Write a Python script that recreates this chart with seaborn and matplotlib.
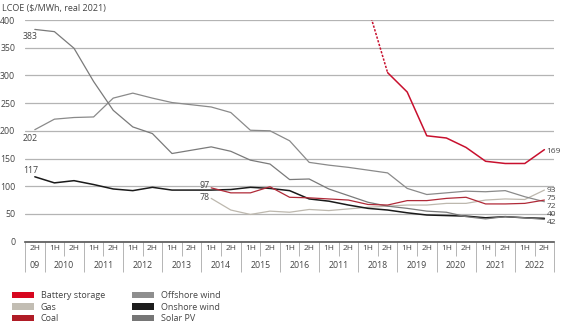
import numpy as np
import pandas as pd
import matplotlib
matplotlib.use("Agg")
import matplotlib.pyplot as plt
import seaborn as sns
from matplotlib.patches import Patch

# ---------------- data ----------------
halves = ["2H"] + ["1H", "2H"] * 13
years = ["09", "2010", "2011", "2012", "2013", "2014", "2015", "2016",
         "2011", "2018", "2019", "2020", "2021", "2022"]
nan = np.nan

solar_pv = [383, 379, 349, 289, 237, 207, 195, 159, 165, 171, 163, 147, 140, 112,
            113, 95, 83, 71, 64, 60, 55, 53, 45, 41, 45, 43, 40]
offshore_wind = [202, 221, 224, 225, 259, 268, 259, 251, 247, 243, 233, 201, 200, 182,
                 143, 138, 134, 129, 124, 96, 85, 88, 91, 90, 92, 81, 72]
onshore_wind = [117, 106, 110, 103, 95, 92, 98, 93, 93, 93, 94, 98, 96, 92,
                77, 73, 66, 60, 57, 52, 48, 47, 46, 43, 45, 43, 42]
coal = [nan] * 9 + [97, 88, 88, 99, 80, 79, 77, 75, 67, 66, 74, 74, 78, 80, 68, 68, 69, 75]
gas = [nan] * 9 + [78, 57, 49, 55, 53, 58, 56, 59, 62, 64, 66, 66, 69, 69, 75, 77, 76, 93]
battery = [nan] * 17 + [423, 305, 270, 191, 187, 170, 145, 141, 141, 166]
battery_estimate_end = 18  # dashed (estimated) part ends at this period

series_names = ["Battery storage", "Gas", "Coal", "Offshore wind", "Onshore wind", "Solar PV"]
series_values = [battery, gas, coal, offshore_wind, onshore_wind, solar_pv]
colors = {"Battery storage": "#d7061f", "Gas": "#c2bdb3", "Coal": "#b01c26",
          "Offshore wind": "#8e8e8e", "Onshore wind": "#1c1c1c", "Solar PV": "#767676"}
line_colors = {"Battery storage": "#c8102e", "Gas": "#bdb8ae", "Coal": "#b02a38",
               "Offshore wind": "#8a8a8a", "Onshore wind": "#1a1a1a", "Solar PV": "#7a7a7a"}

start_labels = [("383", -0.23, 371), ("202", -0.23, 187), ("117", -0.2, 129),
                ("97", 8.67, 102), ("78", 8.67, 79)]
end_labels = [("169", 162), ("93", 93), ("75", 78.5), ("72", 64), ("40", 49), ("42", 34)]

rows = []
for name, vals in zip(series_names, series_values):
    for i, v in enumerate(vals):
        rows.append({"period": i, "value": v, "series": name})
df = pd.DataFrame(rows).dropna()

# ---------------- style ----------------
sns.set_theme(style="white")
plt.rcParams["font.family"] = ["Open Sans", "DejaVu Sans"]
txt = "#444444"

fig = plt.figure(figsize=(5.8, 3.27), dpi=100)
ax = fig.add_axes([25 / 580, 1 - 241.6 / 327, 529.2 / 580, 221.6 / 327])

for name in series_names:
    d = df[df["series"] == name]
    lw = 1.1 if name in ("Onshore wind", "Battery storage") else 0.9
    if name == "Battery storage":
        dashed = d[d["period"] <= battery_estimate_end]
        solid = d[d["period"] >= battery_estimate_end]
        sns.lineplot(data=dashed, x="period", y="value", color=line_colors[name],
                     lw=lw, ls=(0, (1.5, 1)), ax=ax, legend=False)
        sns.lineplot(data=solid, x="period", y="value", color=line_colors[name],
                     lw=lw, ax=ax, legend=False)
    else:
        sns.lineplot(data=d, x="period", y="value", color=line_colors[name],
                     lw=lw, ax=ax, legend=False, zorder=3 if name == "Coal" else 2)

ax.set_xlim(-0.5, len(halves) - 0.5)
ax.set_ylim(0, 400)
ax.set_yticks(range(0, 401, 50))
ax.yaxis.grid(True, color="#b4b4b4", lw=0.9)
ax.set_axisbelow(True)
ax.set_xticks([])
ax.set_xlabel("")
ax.set_ylabel("")
for s in ["top", "right", "left"]:
    ax.spines[s].set_visible(False)
ax.spines["bottom"].set_color("#555555")
ax.spines["bottom"].set_linewidth(1.2)
ax.tick_params(axis="y", length=0, pad=7, labelsize=6.3, labelcolor=txt)

# category axis (half-years / years)
xt = ax.get_xaxis_transform()
for i, h in enumerate(halves):
    ax.text(i, -0.031, h, transform=xt, ha="center", va="center", fontsize=6, color=txt)
year_centers = [0] + [2 * k - 0.5 for k in range(1, len(years))]
for yc, yl in zip(year_centers, years):
    ax.text(yc, -0.110, yl, transform=xt, ha="center", va="center", fontsize=6.3, color=txt)
long_sep = [-0.5] + [0.5 + 2 * k for k in range(13)] + [len(halves) - 0.5]
short_sep = [1.5 + 2 * k for k in range(13)]
ax.vlines(long_sep, -0.137, 0, transform=xt, clip_on=False, color="#b4b4b4", lw=0.7)
ax.vlines(short_sep, -0.065, 0, transform=xt, clip_on=False, color="#b4b4b4", lw=0.7)

# value labels
for t, x, y in start_labels:
    ax.text(x, y, t, ha="center", va="center", fontsize=6.3, color=txt, clip_on=False)
for t, y in end_labels:
    ax.text(len(halves) - 1 + 0.12, y, t, ha="left", va="center", fontsize=6,
            color=txt, clip_on=False)

fig.text(2 / 580, 1 - 8 / 327, "LCOE ($/MWh, real 2021)", ha="left", va="center",
         fontsize=6.5, color=txt)

handles = [Patch(facecolor=colors[n], edgecolor="none", label=n) for n in series_names]
fig.legend(handles=handles, loc="upper left", bbox_to_anchor=(12 / 580, 1 - 291 / 327),
           ncol=2, frameon=False, fontsize=6.5, handlelength=2.4, handleheight=0.75,
           labelspacing=0.28, columnspacing=3.0, handletextpad=0.8,
           borderaxespad=0, borderpad=0, labelcolor=txt)

fig.savefig("out.png", dpi=100)
